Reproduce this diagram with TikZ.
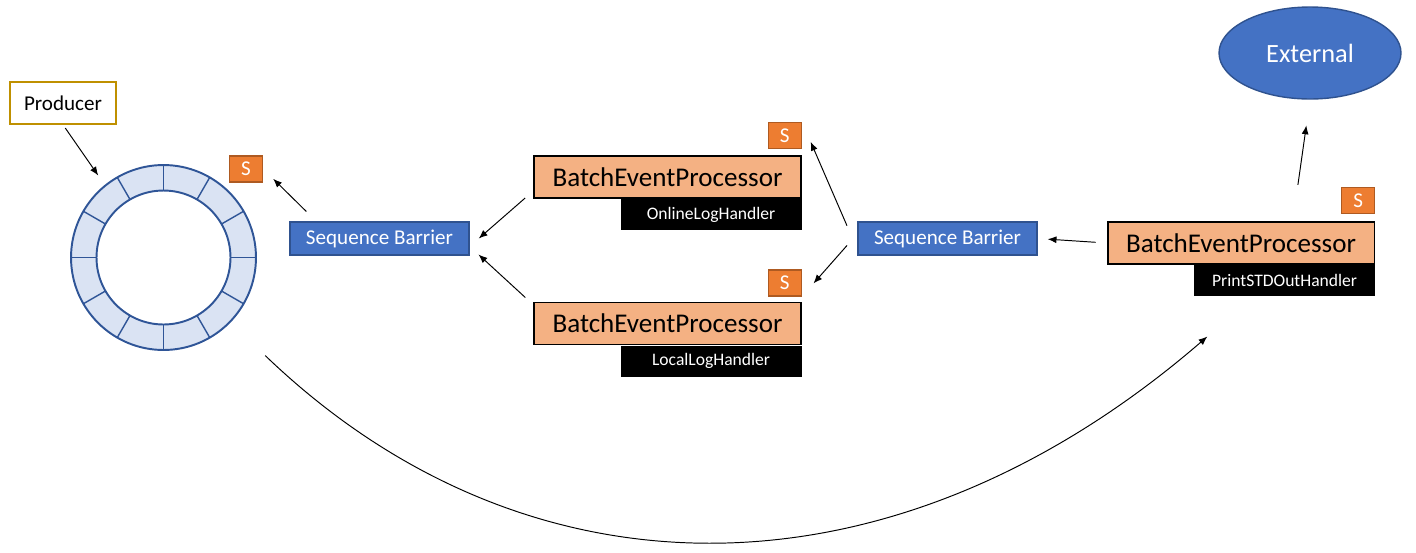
\documentclass[tikz,border=0pt]{standalone}
\usepackage{fontspec}
\setmainfont{Carlito}
\usetikzlibrary{arrows.meta, positioning, shapes.geometric}
\definecolor{ringfill}{HTML}{DAE3F3}
\definecolor{ringline}{HTML}{2F5597}
\definecolor{barrierblue}{HTML}{4472C4}
\definecolor{barrierline}{HTML}{2F528F}
\definecolor{procfill}{HTML}{F4B183}
\definecolor{seqorange}{HTML}{ED7D31}
\definecolor{seqline}{HTML}{AE5A21}
\definecolor{producerline}{HTML}{BF9000}
\tikzset{
    producerbox/.style={
        draw=producerline,
        line width=0.85pt,
        fill=white,
        minimum width=2.12cm,
        minimum height=0.84cm,
        font=\fontsize{12}{14}\selectfont
    },
    barrier/.style={
        draw=barrierline,
        line width=0.8pt,
        fill=barrierblue,
        text=white,
        minimum width=3.58cm,
        minimum height=0.66cm,
        font=\fontsize{12}{14}\selectfont
    },
    processor/.style={
        draw=black,
        line width=1.1pt,
        fill=procfill,
        minimum width=5.34cm,
        minimum height=0.84cm,
        font=\fontsize{15.4}{18}\selectfont
    },
    handler/.style={
        fill=black,
        text=white,
        minimum width=3.62cm,
        minimum height=0.62cm,
        font=\fontsize{10}{12}\selectfont
    },
    seqbox/.style={
        draw=seqline,
        line width=0.8pt,
        fill=seqorange,
        text=white,
        minimum width=0.66cm,
        minimum height=0.52cm,
        inner sep=0pt,
        font=\fontsize{12}{14}\selectfont
    },
    external/.style={
        ellipse,
        draw=barrierline,
        line width=0.8pt,
        fill=barrierblue,
        text=white,
        minimum width=3.64cm,
        minimum height=1.84cm,
        inner sep=0pt,
        font=\fontsize{15}{18}\selectfont
    },
    ringstroke/.style={draw=ringline, line width=0.8pt},
    line/.style={-{Latex[length=5pt, width=4pt]}, line width=0.55pt}
}

\begin{document}
\begin{tikzpicture}[x=0.02cm, y=-0.02cm]
\useasboundingbox (0,0) rectangle (1416,552);

% ring buffer
\node[circle, minimum size=3.7cm, inner sep=0pt] (ring) at (163.5,257.5) {};
\draw[ringstroke, line width=1.1pt, fill=ringfill, even odd rule]
    (ring.center) circle (1.85cm) (ring.center) circle (1.34cm);
\foreach \a in {0,30,...,330}
    \draw[ringstroke] ([shift={(\a:1.34cm)}]ring.center) -- ([shift={(\a:1.85cm)}]ring.center);

\node[producerbox] (producer) at (63,103) {Producer};
\node[seqbox] (s0) at (246,169) {S};

\node[barrier] (sb1) at (379.5,238.5) {Sequence Barrier};
\node[barrier] (sb2) at (947.5,238.5) {Sequence Barrier};

\node[processor] (bep1) at (667.5,177) {BatchEventProcessor};
\node[handler, anchor=north east] (online) at (bep1.south east) {OnlineLogHandler};
\node[seqbox, above left=0.12cm and 0cm of bep1.north east] (s1) {S};

\node[processor] (bep2) at (667.5,323.5) {BatchEventProcessor};
\node[handler, anchor=north east] (local) at (bep2.south east) {LocalLogHandler};
\node[seqbox, above left=0.1cm and 0cm of bep2.north east] (s2) {S};

\node[processor] (bep3) at (1241,243) {BatchEventProcessor};
\node[handler, anchor=north east] (print) at (bep3.south east) {PrintSTDOutHandler};
\node[seqbox, above left=0.14cm and 0cm of bep3.north east] (s3) {S};

\node[external] (ext) at (1310,53) {External};

% connectors
\draw[line, shorten <=0.08cm, shorten >=0.24cm] (producer.south) -- (ring.129);
\draw[line, shorten <=0.28cm, shorten >=0.28cm] ([xshift=0.54cm]sb1.north west) -- (s0.east);
\draw[line, shorten <=0.21cm, shorten >=0.24cm] (bep1.186) -- (sb1.-5);
\draw[line, shorten <=0.21cm, shorten >=0.24cm] (bep2.172) -- (sb1.-5);
\draw[line, shorten <=0.52cm, shorten >=0.44cm] (sb2.187) -- (s1.north east);
\draw[line, shorten <=0.31cm, shorten >=0.35cm] (sb2.177) -- (s2.south east);
\draw[line, shorten <=0.22cm, shorten >=0.2cm] (bep3.west) -- (sb2.east);
\draw[line, shorten <=0.73cm, shorten >=0.52cm] (bep3.23) -- (ext.south);
\draw[line, shorten <=0.97cm, shorten >=1.22cm] (ring.-44) .. controls (528,608) and (893,608) .. (print.207);
\end{tikzpicture}
\end{document}
